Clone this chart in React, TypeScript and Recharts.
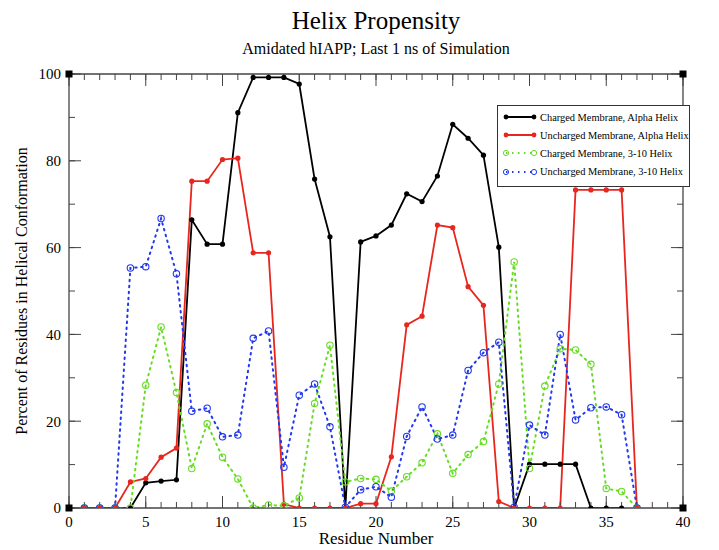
import React from 'react';
import { LineChart, Line, XAxis, YAxis, ReferenceDot } from 'recharts';

const residues = [1, 2, 3, 4, 5, 6, 7, 8, 9, 10, 11, 12, 13, 14, 15, 16, 17, 18, 19, 20, 21, 22, 23, 24, 25, 26, 27, 28, 29, 30, 31, 32, 33, 34, 35, 36, 37];

const chargedAlpha = [0, 0, 0, 0, 5.8, 6.2, 6.5, 66.4, 60.8, 60.8, 91.1, 99.2, 99.2, 99.2, 97.7, 75.8, 62.5, 0, 61.3, 62.7, 65.2, 72.4, 70.6, 76.5, 88.4, 85.2, 81.3, 60.1, 0, 10.1, 10.1, 10.1, 10.1, 0, 0, 0, null];
const unchargedAlpha = [0, 0, 0, 6.0, 6.8, 11.7, 13.8, 75.3, 75.3, 80.3, 80.6, 58.8, 58.8, 0.9, 0, 0, 0, 0, 1.0, 1.0, 11.8, 42.2, 44.2, 65.2, 64.6, 51.0, 46.7, 1.5, 0, 0, 0, 0, 73.3, 73.3, 73.3, 73.3, 0];
const charged310 = [0, 0, 0, 0, 28.3, 41.7, 26.6, 9.1, 19.4, 11.7, 6.7, 0, 0.7, 0.5, 2.3, 24.1, 37.5, 6.0, 6.8, 6.6, 3.9, 7.2, 10.4, 17.1, 8.0, 12.3, 15.3, 28.6, 56.7, 9.1, 28.1, 36.7, 36.4, 33.1, 4.5, 3.8, 0];
const uncharged310 = [0, 0, 0, 55.3, 55.6, 66.7, 54.0, 22.3, 23.0, 16.4, 16.8, 39.1, 40.8, 9.4, 26.0, 28.6, 18.7, 0.2, 4.2, 4.9, 2.5, 16.5, 23.3, 15.9, 16.8, 31.7, 35.8, 38.2, 0.2, 19.1, 16.8, 40.0, 20.3, 23.1, 23.3, 21.5, 0];

const seriesNames = [
  'Charged Membrane, Alpha Helix',
  'Uncharged Membrane, Alpha Helix',
  'Charged Membrane, 3-10 Helix',
  'Uncharged Membrane, 3-10 Helix',
];

const xMajorTicks = [0, 5, 10, 15, 20, 25, 30, 35, 40];
const xMinorTicks = [0, 1, 2, 3, 4, 5, 6, 7, 8, 9, 10, 11, 12, 13, 14, 15, 16, 17, 18, 19, 20, 21, 22, 23, 24, 25, 26, 27, 28, 29, 30, 31, 32, 33, 34, 35, 36, 37, 38, 39, 40];
const yMajorTicks = [0, 20, 40, 60, 80, 100];
const yMinorTicks = [0, 10, 20, 30, 40, 50, 60, 70, 80, 90, 100];
const cornerMarkers = [
  { x: 0, y: 0 },
  { x: 40, y: 0 },
  { x: 0, y: 100 },
  { x: 40, y: 100 },
];

const titleText = 'Helix Propensity';
const subtitleText = 'Amidated hIAPP; Last 1 ns of Simulation';
const xLabelText = 'Residue Number';
const yLabelText = 'Percent of Residues in Helical Conformation';

const data = residues.map((r, i) => ({
  residue: r,
  s0: chargedAlpha[i],
  s1: unchargedAlpha[i],
  s2: charged310[i],
  s3: uncharged310[i],
}));

const SERIF = "'Liberation Serif', 'Times New Roman', Times, serif";
const AXIS = '#444';
const THIN = 0.01;

type SeriesStyle = { key: string; color: string; dotted: boolean };
const seriesStyles: SeriesStyle[] = [
  { key: 's0', color: '#000000', dotted: false },
  { key: 's1', color: '#e8261e', dotted: false },
  { key: 's2', color: '#66dd22', dotted: true },
  { key: 's3', color: '#2238f0', dotted: true },
];

const makeDot = (color: string, open: boolean) => (props: any) => {
  const { cx, cy, index, value } = props;
  if (cx == null || cy == null || value == null) return <g key={`d-${index}`} />;
  if (open) {
    return <circle key={`d-${index}`} cx={cx} cy={cy} r={3.2} fill="none" stroke={color} strokeWidth={1.1} />;
  }
  return <circle key={`d-${index}`} cx={cx} cy={cy} r={2.6} fill={color} stroke="none" />;
};

const emptyTick = () => <g />;

const cornerShape = (props: any) => {
  const { cx, cy } = props;
  return <rect x={cx - 3.5} y={cy - 3.5} width={7} height={7} fill="#000" />;
};

function LegendBox() {
  return (
    <div
      style={{
        position: 'absolute',
        left: 497,
        top: 105,
        width: 191,
        height: 78,
        border: '1px solid #333',
        background: '#fff',
        paddingTop: 2,
        boxSizing: 'content-box',
        fontFamily: SERIF,
        fontSize: 10.4,
        color: '#000',
      }}
    >
      {seriesStyles.map((s, i) => (
        <div key={s.key} style={{ height: 18.2, display: 'flex', alignItems: 'center' }}>
          <svg width={40} height={10} style={{ marginLeft: 5, flex: 'none' }}>
            <line
              x1={3}
              y1={5}
              x2={31}
              y2={5}
              stroke={s.color}
              strokeWidth={2}
              strokeDasharray={s.dotted ? '1.5 4.5' : undefined}
            />
            {s.dotted ? (
              <>
                <circle cx={3} cy={5} r={2.6} fill="none" stroke={s.color} strokeWidth={1} />
                <circle cx={31} cy={5} r={2.6} fill="none" stroke={s.color} strokeWidth={1} />
              </>
            ) : (
              <>
                <circle cx={3} cy={5} r={2.4} fill={s.color} />
                <circle cx={31} cy={5} r={2.4} fill={s.color} />
              </>
            )}
          </svg>
          <span style={{ whiteSpace: 'nowrap', marginLeft: -3 }}>{seriesNames[i]}</span>
        </div>
      ))}
    </div>
  );
}

export default function App() {
  return (
    <div style={{ position: 'absolute', left: 0, top: 0, width: 719, height: 550, background: '#fff' }}>
      <LineChart width={719} height={550} data={data} margin={{ top: 74, right: 36, left: 24, bottom: 0 }}>
        <XAxis
          dataKey="residue"
          type="number"
          domain={[0, 40]}
          ticks={xMajorTicks}
          interval={0}
          height={42}
          tickLine={false}
          axisLine={{ stroke: AXIS, strokeWidth: 1.3 }}
          tick={{ fontSize: 15, fontFamily: SERIF, fill: '#000' }}
          allowDataOverflow
        />
        <XAxis xAxisId="bMinor" dataKey="residue" type="number" domain={[0, 40]} ticks={xMinorTicks} interval={0} orientation="bottom" mirror height={THIN} tickSize={6} tick={emptyTick} axisLine={false} tickLine={{ stroke: AXIS, strokeWidth: 1 }} allowDataOverflow />
        <XAxis xAxisId="bMajor" dataKey="residue" type="number" domain={[0, 40]} ticks={xMajorTicks} interval={0} orientation="bottom" mirror height={THIN} tickSize={12} tick={emptyTick} axisLine={false} tickLine={{ stroke: AXIS, strokeWidth: 1 }} allowDataOverflow />
        <XAxis xAxisId="tMinor" dataKey="residue" type="number" domain={[0, 40]} ticks={xMinorTicks} interval={0} orientation="top" mirror height={THIN} tickSize={6} tick={emptyTick} axisLine={{ stroke: AXIS, strokeWidth: 1.3 }} tickLine={{ stroke: AXIS, strokeWidth: 1 }} allowDataOverflow />
        <XAxis xAxisId="tMajor" dataKey="residue" type="number" domain={[0, 40]} ticks={xMajorTicks} interval={0} orientation="top" mirror height={THIN} tickSize={12} tick={emptyTick} axisLine={false} tickLine={{ stroke: AXIS, strokeWidth: 1 }} allowDataOverflow />
        <YAxis
          type="number"
          domain={[0, 100]}
          ticks={yMajorTicks}
          interval={0}
          width={45}
          tickLine={false}
          axisLine={{ stroke: AXIS, strokeWidth: 1.3 }}
          tick={{ fontSize: 15, fontFamily: SERIF, fill: '#000' }}
          allowDataOverflow
        />
        <YAxis yAxisId="lMinor" type="number" domain={[0, 100]} ticks={yMinorTicks} interval={0} orientation="left" mirror width={THIN} tickSize={6} tick={emptyTick} axisLine={false} tickLine={{ stroke: AXIS, strokeWidth: 1 }} allowDataOverflow />
        <YAxis yAxisId="lMajor" type="number" domain={[0, 100]} ticks={yMajorTicks} interval={0} orientation="left" mirror width={THIN} tickSize={12} tick={emptyTick} axisLine={false} tickLine={{ stroke: AXIS, strokeWidth: 1 }} allowDataOverflow />
        <YAxis yAxisId="rMinor" type="number" domain={[0, 100]} ticks={yMinorTicks} interval={0} orientation="right" mirror width={THIN} tickSize={6} tick={emptyTick} axisLine={{ stroke: AXIS, strokeWidth: 1.3 }} tickLine={{ stroke: AXIS, strokeWidth: 1 }} allowDataOverflow />
        <YAxis yAxisId="rMajor" type="number" domain={[0, 100]} ticks={yMajorTicks} interval={0} orientation="right" mirror width={THIN} tickSize={12} tick={emptyTick} axisLine={false} tickLine={{ stroke: AXIS, strokeWidth: 1 }} allowDataOverflow />

        {seriesStyles.map((s, i) => (
          <Line
            key={s.key}
            dataKey={s.key}
            name={seriesNames[i]}
            type="linear"
            stroke={s.color}
            strokeWidth={s.dotted ? 2 : 1.8}
            strokeDasharray={s.dotted ? '1.5 4.5' : undefined}
            strokeLinecap={s.dotted ? 'round' : 'butt'}
            dot={makeDot(s.color, s.dotted)}
            activeDot={false}
            isAnimationActive={false}
          />
        ))}

        {cornerMarkers.map((c, i) => (
          <ReferenceDot key={`c-${i}`} x={c.x} y={c.y} r={4} ifOverflow="visible" shape={cornerShape} />
        ))}
      </LineChart>

      <svg width={719} height={550} style={{ position: 'absolute', left: 0, top: 0, pointerEvents: 'none' }}>
        <text x={376} y={29} textAnchor="middle" fontFamily={SERIF} fontSize={25} fill="#000">{titleText}</text>
        <text x={376} y={54} textAnchor="middle" fontFamily={SERIF} fontSize={16} fill="#000">{subtitleText}</text>
        <text x={376} y={544} textAnchor="middle" fontFamily={SERIF} fontSize={17} fill="#000">{xLabelText}</text>
        <text x={27} y={291} textAnchor="middle" fontFamily={SERIF} fontSize={16} fill="#000" transform="rotate(-90 27 291)">{yLabelText}</text>
      </svg>
      <LegendBox />
    </div>
  );
}
